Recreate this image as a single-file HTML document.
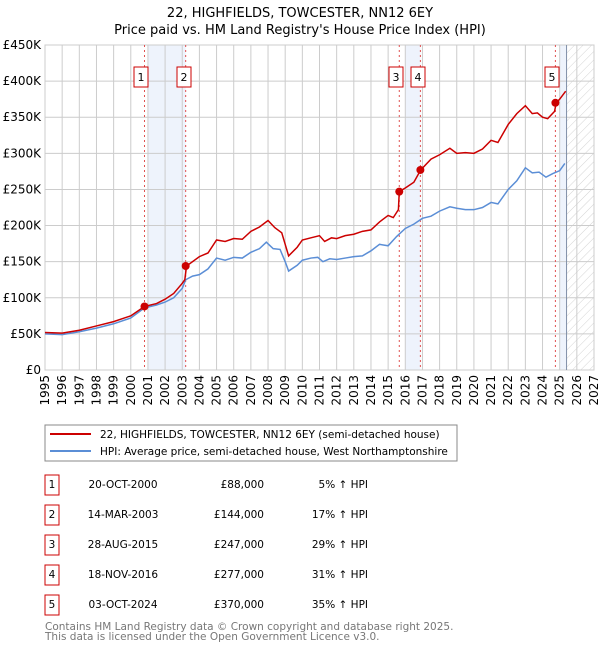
<!DOCTYPE html>
<html><head><meta charset="utf-8"><style>
body{margin:0;background:#fff;font-family:"DejaVu Sans","Liberation Sans",sans-serif;}
svg text{font-family:"DejaVu Sans","Liberation Sans",sans-serif;}
</style></head><body>
<svg id="chart" width="600" height="650">
<defs><pattern id="hatch" width="6" height="6" patternUnits="userSpaceOnUse" patternTransform="rotate(45)"><line x1="0" y1="0" x2="0" y2="6" stroke="#d4d4d4" stroke-width="1"/></pattern></defs>
<text x="300" y="17" text-anchor="middle" font-size="13">22, HIGHFIELDS, TOWCESTER, NN12 6EY</text>
<text x="300" y="34" text-anchor="middle" font-size="13">Price paid vs. HM Land Registry's House Price Index (HPI)</text>
<g id="plot"></g>
<rect x="45" y="425" width="412" height="36" fill="#fff" stroke="#888"/>
<line x1="50" y1="434" x2="91" y2="434" stroke="#cc0000" stroke-width="2"/>
<text x="100" y="438" font-size="10.5">22, HIGHFIELDS, TOWCESTER, NN12 6EY (semi-detached house)</text>
<line x1="50" y1="451" x2="91" y2="451" stroke="#5b8ed6" stroke-width="2"/>
<text x="100" y="455" font-size="10.5">HPI: Average price, semi-detached house, West Northamptonshire</text>
<g id="table"></g>
<text x="45" y="630" font-size="10.5" fill="#777">Contains HM Land Registry data © Crown copyright and database right 2025.</text>
<text x="45" y="640" font-size="10.5" fill="#777">This data is licensed under the Open Government Licence v3.0.</text>
</svg>
<script>
const hpiYears=[1995,1996,1997,1998,1999,2000,2000.8,2001.5,2002,2002.5,2003,2003.2,2003.6,2004,2004.5,2005,2005.5,2006,2006.5,2007,2007.5,2007.9,2008.3,2008.7,2009.0,2009.2,2009.7,2010,2010.5,2010.9,2011.2,2011.6,2012,2012.5,2013,2013.5,2014,2014.5,2015,2015.5,2016,2016.5,2017,2017.5,2018,2018.6,2019,2019.5,2020,2020.5,2021,2021.4,2022,2022.5,2023,2023.4,2023.8,2024.2,2024.6,2025,2025.3];
const hpiValues=[50,49,53,58,64,72,86,90,94,100,113,125,130,132,140,155,152,156,155,163,168,177,168,167,150,137,145,152,155,156,150,154,153,155,157,158,165,174,172,185,196,202,210,213,220,226,224,222,222,225,232,230,250,262,280,273,274,267,272,276,286];
const priceYears=[1995,1996,1997,1998,1999,2000,2000.8,2001.5,2002,2002.5,2003,2003.15,2003.25,2004,2004.5,2005,2005.5,2006,2006.5,2007,2007.5,2008,2008.4,2008.8,2009.2,2009.7,2010,2010.5,2011,2011.3,2011.7,2012,2012.5,2013,2013.5,2014,2014.5,2015,2015.3,2015.6,2015.65,2016,2016.5,2016.9,2017.5,2018,2018.6,2019,2019.5,2020,2020.5,2021,2021.4,2022,2022.5,2023,2023.4,2023.7,2024,2024.3,2024.7,2024.8,2025,2025.35];
const priceValues=[52,51,55,61,67,75,88,92,98,106,120,125,144,157,162,180,178,182,181,192,198,207,197,190,158,170,180,183,186,178,183,182,186,188,192,194,205,214,211,222,247,252,260,277,292,298,307,300,301,300,306,318,315,340,355,366,355,356,350,348,358,370,375,386];
const saleYears=[2000.8,2003.2,2015.65,2016.88,2024.75];
const salePrices=[88,144,247,277,370];
const saleLabels=["1","2","3","4","5"];
const saleDates=["20-OCT-2000","14-MAR-2003","28-AUG-2015","18-NOV-2016","03-OCT-2024"];
const salePriceText=["£88,000","£144,000","£247,000","£277,000","£370,000"];
const salePct=["5% ↑ HPI","17% ↑ HPI","29% ↑ HPI","31% ↑ HPI","35% ↑ HPI"];
const yTicks=[0,50,100,150,200,250,300,350,400,450];
const yTickLabels=["£0","£50K","£100K","£150K","£200K","£250K","£300K","£350K","£400K","£450K"];
const xTicks=[1995,1996,1997,1998,1999,2000,2001,2002,2003,2004,2005,2006,2007,2008,2009,2010,2011,2012,2013,2014,2015,2016,2017,2018,2019,2020,2021,2022,2023,2024,2025,2026,2027];
const bands=[[2001,2003.2],[2016,2016.88],[2025,2025.4]];

const X0=45,X1=594,Y0=370,Y1=45;
const x=v=>X0+(v-1995)/(2027-1995)*(X1-X0);
const y=v=>Y0-v/450*(Y0-Y1);
const NS="http://www.w3.org/2000/svg";
const plot=document.getElementById('plot');
function mk(tag,attrs,parent){const e=document.createElementNS(NS,tag);for(const k in attrs)e.setAttribute(k,attrs[k]);(parent||plot).appendChild(e);return e;}

for(const b of bands){const r=mk('rect',{x:x(b[0]),y:Y1,width:x(b[1])-x(b[0]),height:Y0-Y1,fill:'#eef3fc'});

}
const h=mk('rect',{x:x(2025.4),y:Y1,width:X1-x(2025.4),height:Y0-Y1,fill:'url(#hatch)'});


for(let i=0;i<yTicks.length;i++){const l=mk('line',{x1:X0,x2:X1,y1:y(yTicks[i]),y2:y(yTicks[i]),stroke:'#ccc'});


const t=mk('text',{x:X0-4,y:y(yTicks[i])+4,'text-anchor':'end','font-size':'12'});t.textContent=yTickLabels[i];

}
for(const v of xTicks){const l=mk('line',{x1:x(v),x2:x(v),y1:Y1,y2:Y0,stroke:'#ccc'});


const t=mk('text',{x:0,y:0,'text-anchor':'end','font-size':'12',transform:`translate(${x(v)+4},${Y0+5}) rotate(-90)`});t.textContent=v;

}
const fr=mk('rect',{x:X0,y:Y1,width:X1-X0,height:Y0-Y1,fill:'none',stroke:'#ccc'});


const nl=mk('line',{x1:x(2025.4),x2:x(2025.4),y1:Y1,y2:Y0,stroke:'#8090a8'});


for(let i=0;i<saleYears.length;i++){const l=mk('line',{x1:x(saleYears[i]),x2:x(saleYears[i]),y1:Y1,y2:Y0,stroke:'#e05050','stroke-dasharray':'2,3'});

}
const hp=mk('polyline',{points:hpiYears.map((v,i)=>x(v)+','+y(hpiValues[i])).join(' '),fill:'none',stroke:'#5b8ed6','stroke-width':1.5});


const pp=mk('polyline',{points:priceYears.map((v,i)=>x(v)+','+y(priceValues[i])).join(' '),fill:'none',stroke:'#cc0000','stroke-width':1.5});


const labelX=[141,184,396,418,552];
for(let i=0;i<saleYears.length;i++){const c=mk('circle',{cx:x(saleYears[i]),cy:y(salePrices[i]),r:4,fill:'#cc0000'});


const cxp=labelX[i];
const r=mk('rect',{x:cxp-7,y:67,width:14,height:20,fill:'#fff',stroke:'#cc0000'});


const t=mk('text',{x:cxp,y:81,'text-anchor':'middle','font-size':'11'});t.textContent=saleLabels[i];

}
const tb=document.getElementById('table');
for(let i=0;i<saleLabels.length;i++){const ty=487+30*i;
const r=mk('rect',{x:45,y:ty-12,width:14,height:20,fill:'#fff',stroke:'#cc0000'},tb);


const cols=[[52,'middle',saleLabels[i]],[123,'middle',saleDates[i]],[264,'end',salePriceText[i]],[368,'end',salePct[i]]];
for(const c of cols){const t=mk('text',{x:c[0],y:ty+1,'text-anchor':c[1],'font-size':'10.5'},tb);t.textContent=c[2];

}}
</script>
</body></html>
